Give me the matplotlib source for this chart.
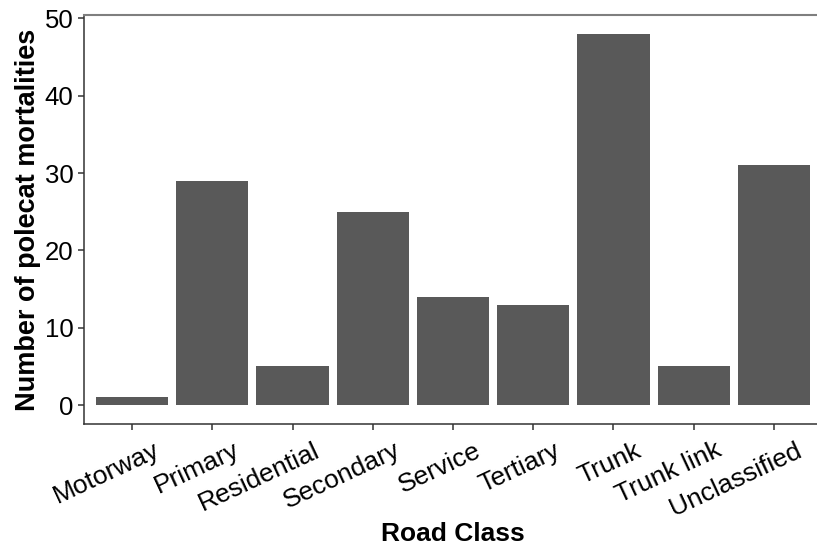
import matplotlib.pyplot as plt
import matplotlib.transforms as mtransforms
import numpy as np

plt.rcParams['font.family'] = ['Liberation Sans', 'DejaVu Sans']

road_classes = ["Motorway", "Primary", "Residential", "Secondary", "Service",
                "Tertiary", "Trunk", "Trunk link", "Unclassified"]
mortalities = [1, 29, 5, 25, 14, 13, 48, 5, 31]
y_ticks = [0, 10, 20, 30, 40, 50]

W, H = 817, 550
fig = plt.figure(figsize=(W / 100, H / 100), dpi=100)
# axes box in pixels: left 84, top 15.4, bottom 423.6, right 822 (runs off the edge)
ax = fig.add_axes([84 / W, (H - 423.6) / H, (822 - 84) / W, (423.6 - 15.4) / H])

x = np.arange(len(road_classes))
ax.bar(x, mortalities, width=0.9, color="#595959")

ax.set_xlim(-0.6, len(road_classes) - 0.4)
ax.set_ylim(-2.4, 50.4)
ax.set_yticks(y_ticks)
ax.set_xticks(x)
ax.tick_params(axis="y", labelsize=18.5, pad=3)
ax.tick_params(axis="x", pad=6)
ax.tick_params(colors="#333333", labelcolor="black", length=4.5, width=1.1)
ax.set_xticklabels(road_classes, rotation=25, ha="right", va="top",
                   rotation_mode="anchor", fontsize=19)

for side in ["left", "bottom"]:
    ax.spines[side].set_color("#333333")
    ax.spines[side].set_linewidth(1.1)
ax.spines["top"].set_color("#7f7f7f")
ax.spines["top"].set_linewidth(1.5)
ax.spines["right"].set_visible(False)

ax.set_ylabel("Number of polecat mortalities", fontsize=19.5, fontweight="bold")
ax.set_xlabel("Road Class", fontsize=19, fontweight="bold")
ax.yaxis.set_label_coords((28 - 84) / (822 - 84), 0.5)
ax.xaxis.set_label_coords(0.5, -(534 - 423.6) / (423.6 - 15.4))
ax.xaxis.label.set_va("center")
ax.yaxis.label.set_va("center")

# shift rotated labels right so their ends sit past the ticks, like the original
offset = mtransforms.ScaledTranslation(0.21, 0, fig.dpi_scale_trans)
for lbl in ax.get_xticklabels():
    lbl.set_transform(lbl.get_transform() + offset)

fig.savefig("out.png", dpi=100)
